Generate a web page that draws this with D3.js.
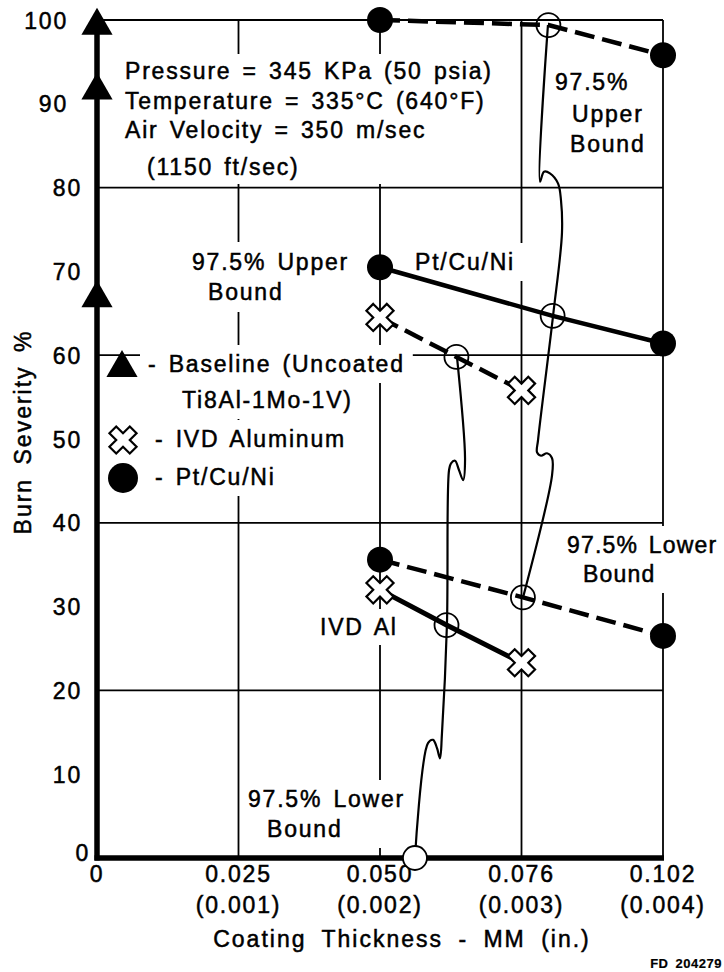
<!DOCTYPE html>
<html>
<head>
<meta charset="utf-8">
<script src="https://cdn.jsdelivr.net/npm/d3@7"></script>
<style>
  body { margin: 0; background: #fff; }
  svg text { font-family: "Liberation Sans", Arial, Helvetica, sans-serif; font-size: 23px; letter-spacing: 1.8px; word-spacing: 3px; fill: #000; stroke: #000; stroke-width: 0.5px; }
</style>
</head>
<body>
<svg id="chart" width="724" height="972"></svg>
<script>
// ---- data ----
const xTickVals = [0, 0.001, 0.002, 0.003, 0.004];          // inches
const xTickMM   = ["0", "0.025", "0.050", "0.076", "0.102"];
const xTickIn   = ["", "(0.001)", "(0.002)", "(0.003)", "(0.004)"];
const yTicks    = [0, 10, 20, 30, 40, 50, 60, 70, 80, 90, 100];
const gridYVals = [20, 40, 60, 80, 100];
const gridXVals = [0.001, 0.002, 0.003, 0.004];

// Baseline (uncoated Ti8Al-1Mo-1V), all at zero thickness
const baseX = [0, 0, 0];
const baseY = [99.3, 91.6, 66.8];

// Pt/Cu/Ni: mean and 97.5% bounds (middle point = open circle)
const ptUpperX = [0.002, 0.00319, 0.004];
const ptUpperY = [100, 99.4, 95.8];
const ptMeanX  = [0.002, 0.00322, 0.004];
const ptMeanY  = [70.5, 64.7, 61.4];
const ptLowerX = [0.002, 0.00301, 0.004];
const ptLowerY = [35.6, 31.1, 26.5];

// IVD Aluminum
const ivdUpperX = [0.002, 0.00254, 0.003];
const ivdUpperY = [64.5, 59.8, 55.8];
const ivdMeanX  = [0.002, 0.00247, 0.003];
const ivdMeanY  = [32, 27.8, 23.3];

// hand-drawn connecting lines between the bounds (with break squiggles)
const ptLinkX = [0.003187, 0.003131, 0.003159, 0.003201, 0.003258, 0.003279, 0.003286, 0.003223,
                 0.003117, 0.003110, 0.003138, 0.003180, 0.003216, 0.003216, 0.003011];
const ptLinkY = [99.4, 80.7, 81.9, 81.7, 80.5, 78.5, 74.6, 64.7,
                 49.9, 48.4, 48.0, 48.3, 47.7, 45.7, 31.1];
const ivdLinkX = [0.002544, 0.002601, 0.002587, 0.002558, 0.002530, 0.002502, 0.002488, 0.002473,
                  0.002438, 0.002424, 0.002403, 0.002375, 0.002339, 0.002247];
const ivdLinkY = [59.8, 47.5, 45.1, 46.3, 47.4, 47.1, 46.3, 27.8,
                  14.9, 11.9, 13.1, 14.1, 13.7, 0];

const svg = d3.select("#chart");

const x = d3.scaleLinear().domain([0, 0.004]).range([97, 663]);
const y = d3.scaleLinear().domain([0, 100]).range([858, 20]);

const zip = (xs, ys) => xs.map((v, i) => [v, ys[i]]);

// ---- grid ----
const grid = svg.append("g").attr("stroke", "#000").attr("stroke-width", 1.8);
grid.selectAll(".gy").data(gridYVals).enter().append("line")
  .attr("x1", x(0)).attr("x2", x(0.004))
  .attr("y1", d => y(d)).attr("y2", d => y(d));
grid.selectAll(".gx").data(gridXVals).enter().append("line")
  .attr("x1", d => x(d)).attr("x2", d => x(d))
  .attr("y1", y(0)).attr("y2", y(100));

// ---- labels with white boxes that hide the grid ----
function label(lines, pad, spacing) {
  const g = svg.append("g");
  const box = g.append("rect").attr("fill", "#fff");
  lines.forEach(l => {
    const t = g.append("text").attr("x", l[1]).attr("y", l[2]).text(l[0]);
    if (spacing) t.style("letter-spacing", spacing);
  });
  const b = g.node().getBBox();
  const p = pad || 6;
  box.attr("x", b.x - p).attr("y", b.y - p + 2)
    .attr("width", b.width + 2 * p).attr("height", b.height + 2 * p - 4);
  return g;
}

label([["Pressure = 345 KPa (50 psia)", 125, 79],
       ["Temperature = 335°C (640°F)", 125, 109],
       ["Air Velocity = 350 m/sec", 125, 138],
       ["(1150 ft/sec)", 147, 175]]);
label([["97.5%", 555, 90], ["Upper", 572, 122], ["Bound", 570, 152]], 3);
label([["97.5% Upper", 192, 270], ["Bound", 208, 300]], 9);
label([["Pt/Cu/Ni", 415, 270]], 8);
label([["- Baseline (Uncoated", 148, 372]], 8);
label([["Ti8Al-1Mo-1V)", 182, 408]], 8);
label([["- IVD Aluminum", 155, 447]], 8);
label([["- Pt/Cu/Ni", 155, 485]], 8);
label([["97.5% Lower", 567, 553], ["Bound", 583, 582]], 8, "1.2px");
label([["IVD Al", 320, 635]], 7);
label([["97.5% Lower", 248, 807], ["Bound", 267, 837]], 8);

// ---- axes ----
svg.append("line").attr("x1", x(0)).attr("x2", x(0))
  .attr("y1", y(0) + 2.5).attr("y2", y(100))
  .attr("stroke", "#000").attr("stroke-width", 5.5);
svg.append("line").attr("x1", x(0) - 2.5).attr("x2", x(0.004) + 1)
  .attr("y1", y(0)).attr("y2", y(0))
  .attr("stroke", "#000").attr("stroke-width", 5.5);

const yLab = svg.append("g").call(d3.axisLeft(y).tickValues(yTicks).tickSize(0).tickPadding(15));
yLab.select(".domain").remove();
yLab.selectAll("text").attr("font-size", null).attr("font-family", null)
  .attr("x", d => d >= 90 ? -29 : (d === 0 ? -7 : -15))
  .attr("dy", d => d === 0 ? "0.1em" : "0.35em");
yLab.attr("transform", `translate(${x(0)},0)`).attr("font-size", null).attr("font-family", null);

const xLab = svg.append("g");
xLab.selectAll(".mm").data(xTickVals).enter().append("text")
  .attr("x", d => x(d)).attr("y", 882).attr("text-anchor", "middle")
  .text((d, i) => xTickMM[i]);
xLab.selectAll(".in").data(xTickVals).enter().append("text")
  .attr("x", d => x(d)).attr("y", 913).attr("text-anchor", "middle")
  .text((d, i) => xTickIn[i]);

svg.append("text").attr("x", 402).attr("y", 947).attr("text-anchor", "middle")
  .style("letter-spacing", "2px").style("word-spacing", "7px")
  .text("Coating Thickness - MM (in.)");
svg.append("text").attr("transform", "translate(31,432) rotate(-90)")
  .attr("text-anchor", "middle").style("letter-spacing", "2px").style("word-spacing", "5px")
  .text("Burn Severity %");
svg.append("text").attr("x", 722).attr("y", 968).attr("text-anchor", "end")
  .style("font-size", "13px").style("font-weight", "bold").style("letter-spacing", "0.5px")
  .style("stroke-width", "0.2px")
  .text("FD 204279");

// ---- connecting squiggle lines ----
const link = d3.line().x(d => x(d[0])).y(d => y(d[1])).curve(d3.curveCatmullRom.alpha(0.5));
[zip(ptLinkX, ptLinkY), zip(ivdLinkX, ivdLinkY)].forEach(pts => {
  svg.append("path").attr("d", link(pts))
    .attr("fill", "none").attr("stroke", "#000").attr("stroke-width", 2.2);
});

// ---- series lines ----
const line = d3.line().x(d => x(d[0])).y(d => y(d[1]));
const series = [
  { pts: zip(ptUpperX, ptUpperY), dash: "20,8", w: 4.5 },
  { pts: zip(ptMeanX, ptMeanY), dash: null, w: 4.5 },
  { pts: zip(ptLowerX, ptLowerY), dash: "20,8", w: 4.5 },
  { pts: zip(ivdUpperX, ivdUpperY), dash: "20,8", w: 4.5 },
  { pts: zip(ivdMeanX, ivdMeanY), dash: null, w: 5 }
];
series.forEach(s => {
  svg.append("path").attr("d", line(s.pts))
    .attr("fill", "none").attr("stroke", "#000").attr("stroke-width", s.w)
    .attr("stroke-dasharray", s.dash);
});

// ---- markers ----
const xShape = d3.symbol(d3.symbolCross, 460)();
const triShape = d3.symbol(d3.symbolTriangle, 421)();

// open circles (middle points)
const openPts = series.map(s => s.pts[1]);
svg.selectAll(".open").data(openPts).enter().append("circle")
  .attr("cx", d => x(d[0])).attr("cy", d => y(d[1])).attr("r", 12)
  .attr("fill", "none").attr("stroke", "#000").attr("stroke-width", 1.8);
// bottom end of the IVD link line
svg.append("circle").attr("cx", x(ivdLinkX[ivdLinkX.length - 1])).attr("cy", y(0)).attr("r", 12)
  .attr("fill", "#fff").attr("stroke", "#000").attr("stroke-width", 1.8);

// Pt/Cu/Ni filled circles
const ptEnds = [ptUpperX, ptMeanX, ptLowerX].flatMap((xs, k) => {
  const ys = [ptUpperY, ptMeanY, ptLowerY][k];
  return [[xs[0], ys[0]], [xs[2], ys[2]]];
});
svg.selectAll(".pt").data(ptEnds).enter().append("circle")
  .attr("cx", d => x(d[0])).attr("cy", d => y(d[1])).attr("r", 13).attr("fill", "#000");

// IVD X markers
const ivdEnds = [[ivdUpperX[0], ivdUpperY[0]], [ivdUpperX[2], ivdUpperY[2]],
                 [ivdMeanX[0], ivdMeanY[0]], [ivdMeanX[2], ivdMeanY[2]]];
svg.selectAll(".ivd").data(ivdEnds).enter().append("path")
  .attr("d", xShape)
  .attr("transform", d => `translate(${x(d[0])},${y(d[1])}) rotate(45)`)
  .attr("fill", "#fff").attr("stroke", "#000").attr("stroke-width", 2.2);

// baseline triangles on the y axis
svg.selectAll(".base").data(zip(baseX, baseY)).enter().append("path")
  .attr("d", triShape)
  .attr("transform", d => `translate(${x(d[0])},${y(d[1])})`)
  .attr("fill", "#000");

// ---- legend markers ----
svg.append("path").attr("d", triShape).attr("transform", "translate(122,368)").attr("fill", "#000");
svg.append("path").attr("d", xShape).attr("transform", "translate(123,440) rotate(45)")
  .attr("fill", "#fff").attr("stroke", "#000").attr("stroke-width", 2.2);
svg.append("circle").attr("cx", 123).attr("cy", 478).attr("r", 15).attr("fill", "#000");
</script>
</body>
</html>
